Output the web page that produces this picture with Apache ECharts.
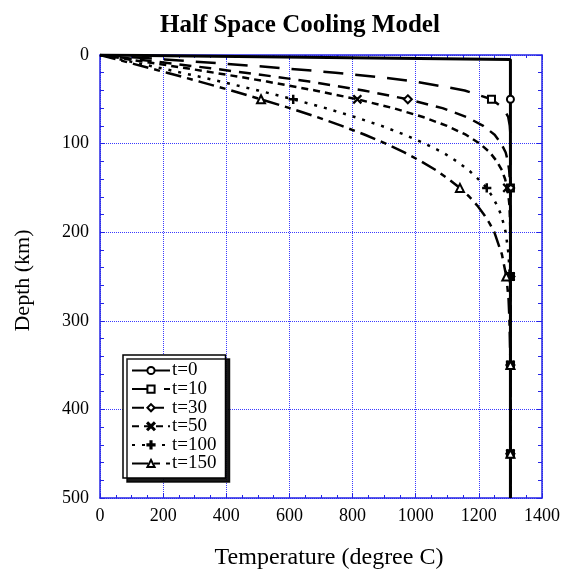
<!DOCTYPE html>
<html>
<head>
<meta charset="utf-8">
<script src="https://cdn.jsdelivr.net/npm/echarts@6/dist/echarts.min.js"></script>
<style>
  html, body { margin: 0; padding: 0; background: #fff; }
  #chart { width: 563px; height: 575px; }
</style>
</head>
<body>
<div id="chart"></div>
<script>
// depth samples (km), shared by every curve
var depths = [0, 5, 10, 15, 20, 25, 30, 40, 50, 60, 70, 80, 90, 100, 110, 120, 130, 140, 150,
              160, 170, 180, 190, 200, 225, 250, 275, 300, 350, 400, 450, 500];
// temperature (degree C) at those depths
var t0   = [0, 1300, 1300, 1300, 1300, 1300, 1300, 1300, 1300, 1300, 1300, 1300, 1300, 1300, 1300, 1300,
            1300, 1300, 1300, 1300, 1300, 1300, 1300, 1300, 1300, 1300, 1300, 1300, 1300, 1300, 1300, 1300];
var t10  = [0, 205, 403, 585, 746, 885, 999, 1155, 1240, 1278, 1293, 1298, 1300, 1300, 1300, 1300,
            1300, 1300, 1300, 1300, 1300, 1300, 1300, 1300, 1300, 1300, 1300, 1300, 1300, 1300, 1300, 1300];
var t30  = [0, 119, 236, 351, 460, 565, 663, 835, 975, 1085, 1161, 1214, 1250, 1271, 1285, 1292,
            1296, 1298, 1299, 1300, 1300, 1300, 1300, 1300, 1300, 1300, 1300, 1300, 1300, 1300, 1300, 1300];
var t50  = [0, 92, 184, 274, 362, 447, 529, 681, 815, 929, 1023, 1099, 1159, 1203, 1235, 1257,
            1273, 1283, 1290, 1294, 1297, 1298, 1299, 1300, 1300, 1300, 1300, 1300, 1300, 1300, 1300, 1300];
var t100 = [0, 65, 130, 195, 258, 321, 382, 501, 612, 715, 807, 892, 965, 1029, 1086, 1130,
            1168, 1198, 1225, 1243, 1258, 1270, 1278, 1285, 1294, 1298, 1299, 1300, 1300, 1300, 1300, 1300];
var t150 = [0, 53, 106, 159, 212, 264, 315, 415, 510, 601, 687, 766, 839, 905, 964, 1017,
            1064, 1104, 1140, 1170, 1195, 1216, 1234, 1249, 1273, 1287, 1294, 1297, 1300, 1300, 1300, 1300];
var names = ['t=0', 't=10', 't=30', 't=50', 't=100', 't=150'];
var markerDepths = [50, 150, 250, 350, 450];
var xTicks = [0, 200, 400, 600, 800, 1000, 1200, 1400];
var yTicks = [0, 100, 200, 300, 400, 500];

var crossPath = 'path://M0,1L1,0L5,4L9,0L10,1L6,5L10,9L9,10L5,6L1,10L0,9L4,5Z';
var plusPath = 'path://M4.2,0H5.8V4.2H10V5.8H5.8V10H4.2V5.8H0V4.2H4.2Z';

var blue = '#2424e6';
var gridBlue = '#3a3aff';
var serif = '"Liberation Serif", "DejaVu Serif", serif';

function buildData(temps) {
  return depths.map(function (d, i) {
    var item = { value: [temps[i], d] };
    if (markerDepths.indexOf(d) < 0) item.symbol = 'none';
    return item;
  });
}

function curve(name, temps, symbol, size, dash, width) {
  return {
    name: name,
    type: 'line',
    data: buildData(temps),
    symbol: symbol,
    symbolSize: size,
    showSymbol: true,
    showAllSymbol: true,
    lineStyle: { color: '#000', width: width, type: dash },
    itemStyle: { color: '#000', borderColor: '#000', borderWidth: 1.2 },
    emphasis: { disabled: true }
  };
}

function frameAxis(extra) {
  var base = {
    type: 'value',
    axisLine: { onZero: false, lineStyle: { color: blue, width: 1.5 } },
    axisTick: { inside: true, length: 5, lineStyle: { color: blue } },
    axisLabel: { show: false },
    splitLine: { show: false }
  };
  return Object.assign(base, extra);
}

var chart = echarts.init(document.getElementById('chart'));
chart.setOption({
  animation: false,
  title: {
    text: 'Half Space Cooling Model',
    left: 155,
    top: 8,
    textStyle: { fontFamily: serif, fontSize: 25, fontWeight: 'bold', color: '#000' }
  },
  legend: {
    orient: 'vertical',
    left: 123,
    top: 355,
    data: names,
    itemWidth: 38,
    itemHeight: 9,
    itemGap: -0.4,
    padding: [6, 9, 5, 8],
    backgroundColor: '#fff',
    borderColor: '#000',
    borderWidth: 1.5,
    shadowColor: 'rgba(0,0,0,0.9)',
    shadowBlur: 0,
    shadowOffsetX: 4,
    shadowOffsetY: 4,
    textStyle: { fontFamily: serif, fontSize: 19, lineHeight: 18, color: '#000', padding: [0, 0, 0, -3] }
  },
  grid: { left: 100, top: 55, right: 20, bottom: 76 },
  xAxis: [
    frameAxis({
      min: 0, max: 1400, interval: 200, position: 'bottom',
      name: 'Temperature (degree C)', nameLocation: 'middle', nameGap: 48,
      nameTextStyle: { fontFamily: serif, fontSize: 24, color: '#000', padding: [0, 0, 0, 16] },
      minorTick: { show: true, splitNumber: 4, length: 3, lineStyle: { color: blue } },
      axisLabel: { fontFamily: serif, fontSize: 18, color: '#000', margin: 9,
                   formatter: function (v) { return xTicks.indexOf(v) >= 0 ? String(v) : ''; } },
      splitLine: { show: true, lineStyle: { color: gridBlue, type: 'dotted', width: 1 } }
    }),
    frameAxis({
      min: 0, max: 1400, interval: 200, position: 'top',
      minorTick: { show: true, splitNumber: 4, length: 3, lineStyle: { color: blue } }
    })
  ],
  yAxis: [
    frameAxis({
      min: 0, max: 500, interval: 100, inverse: true, position: 'left',
      name: 'Depth (km)', nameLocation: 'middle', nameGap: 66,
      nameTextStyle: { fontFamily: serif, fontSize: 22, color: '#000', padding: [0, 8, 0, 0] },
      minorTick: { show: true, splitNumber: 5, length: 4, lineStyle: { color: blue } },
      axisLabel: { fontFamily: serif, fontSize: 18, color: '#000', margin: 11,
                   formatter: function (v) { return yTicks.indexOf(v) >= 0 ? String(v) : ''; } },
      splitLine: { show: true, lineStyle: { color: gridBlue, type: 'dotted', width: 1 } }
    }),
    frameAxis({
      min: 0, max: 500, interval: 100, inverse: true, position: 'right',
      minorTick: { show: true, splitNumber: 5, length: 4, lineStyle: { color: blue } }
    })
  ],
  series: [
    curve(names[0], t0, 'emptyCircle', 7, 'solid', 3),
    curve(names[1], t10, 'emptyRect', 7, [20, 12], 2.5),
    curve(names[2], t30, 'emptyDiamond', 8, [12, 8], 2.5),
    curve(names[3], t50, crossPath, 8, [7, 5], 2.5),
    curve(names[4], t100, plusPath, 8, [3, 7], 2.5),
    curve(names[5], t150, 'emptyTriangle', 8, [16, 6, 6, 6], 2.5)
  ]
});
</script>
</body>
</html>
